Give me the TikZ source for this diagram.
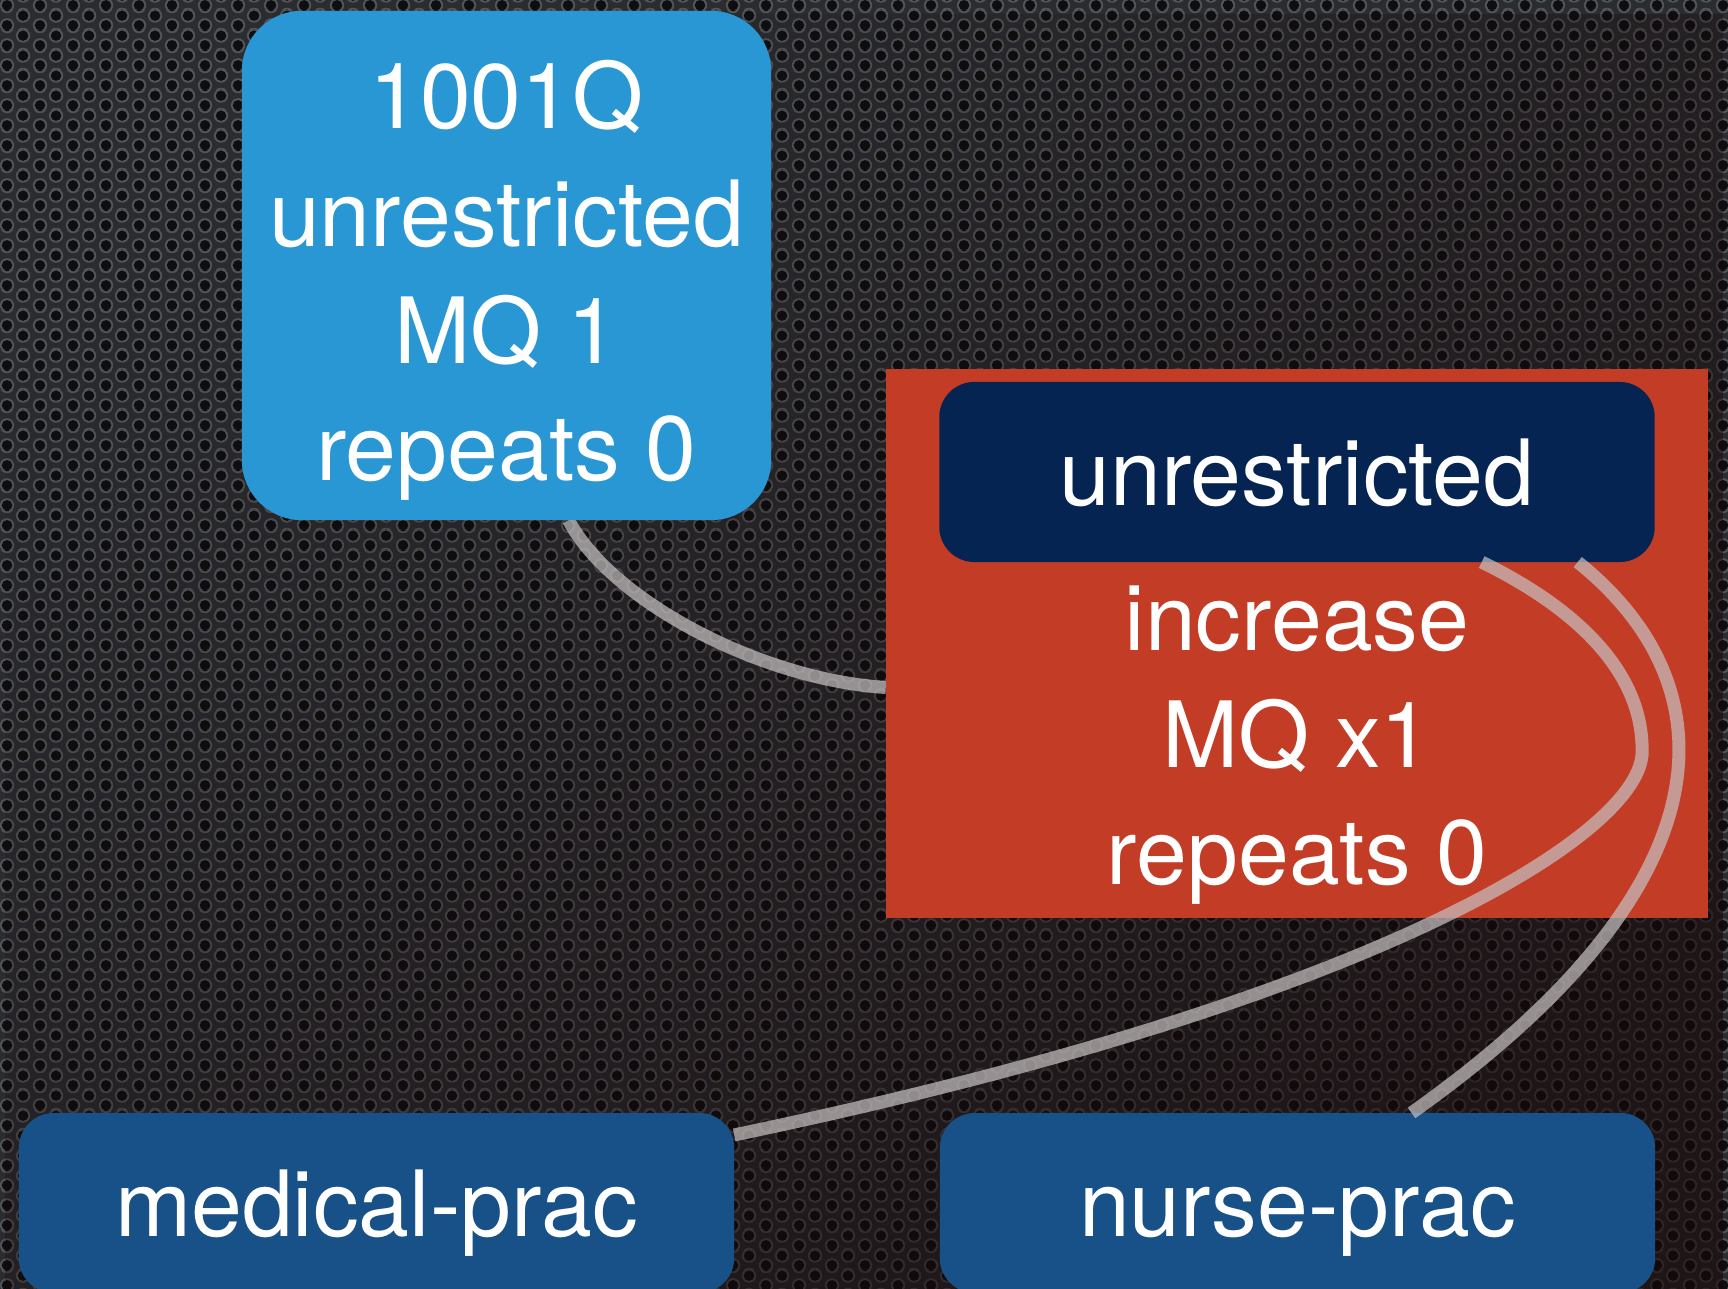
\documentclass[tikz,border=0pt]{standalone}
\usepackage{fontspec}
\setmainfont{TeX Gyre Heros}
\usepackage{xcolor}
\usepackage{tikz}
\usetikzlibrary{calc, patterns, fadings}

\definecolor{qblue}{RGB}{41,151,212}
\definecolor{rulered}{RGB}{195,60,38}
\definecolor{navy}{RGB}{6,36,82}
\definecolor{pracblue}{RGB}{24,80,136}
\definecolor{metal}{RGB}{42,44,48}
\definecolor{metalring}{RGB}{82,85,90}
\definecolor{metalhole}{RGB}{14,14,16}
\definecolor{vignette}{RGB}{22,6,6}
\definecolor{linkgray}{RGB}{200,195,195}

% perforated metal: one tile holds two holes, copies wrap round the edge
\pgfdeclarepatternformonly{rings}{\pgfpointorigin}{\pgfpoint{9.39pt}{5.69pt}}{\pgfpoint{9.39pt}{5.69pt}}{
  \pgfpathcircle{\pgfpoint{2.35pt}{1.42pt}}{2.1pt}
  \pgfpathcircle{\pgfpoint{2.35pt}{7.11pt}}{2.1pt}
  \pgfpathcircle{\pgfpoint{7.04pt}{4.27pt}}{2.1pt}
  \pgfpathcircle{\pgfpoint{7.04pt}{-1.42pt}}{2.1pt}
  \pgfusepath{fill}}
\pgfdeclarepatternformonly{holes}{\pgfpointorigin}{\pgfpoint{9.39pt}{5.69pt}}{\pgfpoint{9.39pt}{5.69pt}}{
  \pgfpathcircle{\pgfpoint{2.35pt}{1.42pt}}{1.55pt}
  \pgfpathcircle{\pgfpoint{2.35pt}{7.11pt}}{1.55pt}
  \pgfpathcircle{\pgfpoint{7.04pt}{4.27pt}}{1.55pt}
  \pgfpathcircle{\pgfpoint{7.04pt}{-1.42pt}}{1.55pt}
  \pgfusepath{fill}}

\tikzfading[name=vigfade, top color=transparent!100, bottom color=transparent!0]

\pgfdeclarelayer{back}
\pgfdeclarelayer{links}
\pgfsetlayers{back,links,main}

\begin{document}
\begin{tikzpicture}[x=0.01cm, y=-0.01cm,
    box/.style={rectangle, inner sep=0pt, outer sep=0pt, text=white, font=\fontsize{26}{33.3}\selectfont},
    qbox/.style={box, fill=qblue, rounded corners=0.6cm, minimum width=5.29cm, minimum height=5.09cm},
    rulebox/.style={box, fill=rulered, minimum width=8.22cm, minimum height=5.49cm},
    tagbox/.style={box, rounded corners=0.35cm, minimum width=7.15cm, minimum height=1.8cm, text height=19pt, text depth=0pt},
    lines/.style={inner sep=0pt, text=white, font=\fontsize{26}{33.3}\selectfont, align=center, anchor=north},
    link/.style={draw=linkgray, opacity=0.7, line width=3.7pt}
]

\useasboundingbox (0,0) rectangle (1728,1289);
\clip (0,0) rectangle (1728,1289);

% Metal background
\begin{pgfonlayer}{back}
\fill[metal] (0,0) rectangle (1728,1289);
\fill[pattern=rings, pattern color=metalring] (0,0) rectangle (1728,1289);
\fill[pattern=holes, pattern color=metalhole] (0,0) rectangle (1728,1289);
\fill[vignette, path fading=vigfade, fading angle=45, opacity=0.6] (0,0) rectangle (1728,1289);
\end{pgfonlayer}

% Question
\node[qbox] (q) at (506.5,265.5) {};
\node[lines] (qtext) at (506.5,60) {1001Q\\unrestricted\\MQ 1\\repeats 0};

% Rule with its filter
\node[rulebox] (rule) at (1297,643.5) {};
\node[tagbox, fill=navy] (unres) at (1297,472) {unrestricted};
\node[lines] (ruletext) at (1297,585) {increase\\MQ x1\\repeats 0};

% Practitioners
\node[tagbox, fill=pracblue] (med) at (376.5,1203) {medical-prac};
\node[tagbox, fill=pracblue] (nurse) at (1297.5,1203) {nurse-prac};

% Links
\begin{pgfonlayer}{links}
\draw[link] ($(q.south)+(62,0)$) .. controls +(42,80) and +(-126,-8) .. ($(rule.west)+(0,44)$);
\end{pgfonlayer}
\draw[link] ($(unres.south east)+(-173,0)$) .. controls +(98,48) and +(3,-80) .. (1642,755)
    .. controls +(-7,80) and +(647,-135) .. ($(med.north east)+(0,22)$);
\draw[link] ($(unres.south east)+(-77,0)$) .. controls +(150,120) and +(329,-233) .. ($(nurse.north)+(114,0)$);

\end{tikzpicture}
\end{document}
